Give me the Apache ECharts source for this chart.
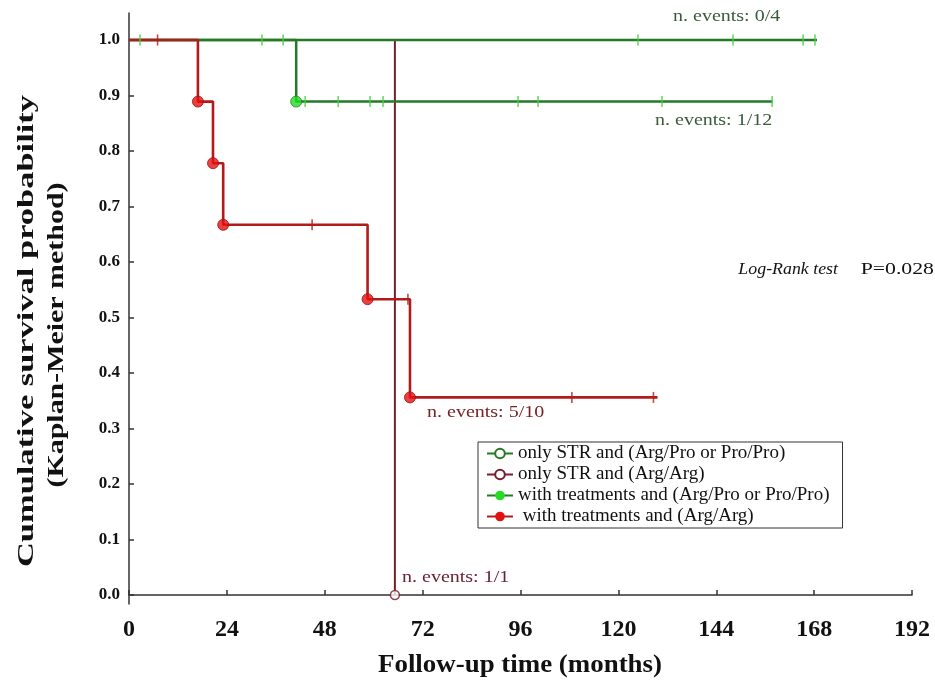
<!DOCTYPE html>
<html><head><meta charset="utf-8">
<script src="https://cdn.jsdelivr.net/npm/echarts@6/dist/echarts.min.js"></script>
<style>html,body{margin:0;padding:0;background:#fff}#c{width:935px;height:684px}</style>
</head><body><div id="c"></div>
<script>
// ---------- data ----------
const xTickValues = [0, 24, 48, 72, 96, 120, 144, 168, 192];
const yTickValues = [0, 0.1, 0.2, 0.3, 0.4, 0.5, 0.6, 0.7, 0.8, 0.9, 1.0];
const groupNames = [
  'only STR and (Arg/Pro or Pro/Pro)',
  'only STR and (Arg/Arg)',
  'with treatments and (Arg/Pro or Pro/Pro)',
  ' with treatments and (Arg/Arg)'
];

// only STR and (Arg/Pro or Pro/Pro)  n. events 0/4
const strProTimes = [0, 168.7];
const strProSurv = [1.0, 1.0];
const strProCensorTimes = [124.8, 148.1, 165.3, 168.2];
const strProCensorSurv = [1.0, 1.0, 1.0, 1.0];

// only STR and (Arg/Arg)  n. events 1/1
const strArgTimes = [0, 65.2];
const strArgSurv = [1.0, 0.0];
const strArgEventTimes = [65.2];
const strArgEventSurv = [0.0];

// with treatments and (Arg/Pro or Pro/Pro)  n. events 1/12
const trtProTimes = [0, 41.0, 157.8];
const trtProSurv = [1.0, 0.889, 0.889];
const trtProEventTimes = [41.0];
const trtProEventSurv = [0.889];
const trtProCensorTimes = [2.7, 32.6, 37.8, 43.2, 51.3, 59.1, 62.3, 95.4, 100.3, 130.7, 157.7];
const trtProCensorSurv = [1.0, 1.0, 1.0, 0.889, 0.889, 0.889, 0.889, 0.889, 0.889, 0.889, 0.889];

// with treatments and (Arg/Arg)  n. events 5/10
const trtArgTimes = [0, 16.9, 20.6, 23.1, 58.5, 68.9, 129.6];
const trtArgSurv = [1.0, 0.889, 0.778, 0.667, 0.533, 0.356, 0.356];
const trtArgEventTimes = [16.9, 20.6, 23.1, 58.5, 68.9];
const trtArgEventSurv = [0.889, 0.778, 0.667, 0.533, 0.356];
const trtArgCensorTimes = [7.0, 44.9, 68.4, 108.6, 128.6];
const trtArgCensorSurv = [1.0, 0.667, 0.533, 0.356, 0.356];

const annotations = [
  {text: 'n. events: 0/4', x: 673, y: 17, color: '#3a5a3a'},
  {text: 'n. events: 1/12', x: 655, y: 121, color: '#3a5a3a'},
  {text: 'n. events: 5/10', x: 427, y: 413, color: '#7a2222'},
  {text: 'n. events: 1/1', x: 402, y: 578, color: '#6a2232'}
];

// ---------- helpers ----------
function pairs(xs, ys) { return xs.map((x, i) => [x, ys[i]]); }
const SERIF = '"Liberation Serif", "Times New Roman", serif';
function measure(txt, font) {
  const c = document.createElement('canvas').getContext('2d');
  c.font = font; return c.measureText(txt).width;
}
function stretchedText(txt, size, x, y, targetW, rot) {
  const font = 'bold ' + size + 'px ' + SERIF;
  const w = measure(txt, font);
  return {
    type: 'text', x: x, y: y, rotation: rot || 0, scaleX: targetW / w, scaleY: 1,
    style: {text: txt, font: font, fill: '#111', align: 'center', verticalAlign: 'middle'}
  };
}

const GREEN_LINE = '#257a25';
const GREEN_TICK = '#44d044';
const BROWN = '#7b1c2c';
const RED_LINE = '#b31b1b';
const RED_DOT = '#e31010';

const chart = echarts.init(document.getElementById('c'), null, {renderer: 'canvas'});
const option = {
  animation: false,
  backgroundColor: '#fff',
  grid: {left: 129, right: 23, top: 13, bottom: 80, containLabel: false, outerBoundsMode: 'none'},
  xAxis: {
    type: 'value', min: 0, max: 192, interval: 24,
    axisLine: {show: true, lineStyle: {color: '#333', width: 1.5}},
    axisTick: {show: true, inside: true, length: 5, lineStyle: {color: '#333', width: 1.5}},
    axisLabel: {margin: 14, fontFamily: SERIF, fontWeight: 'bold', fontSize: 24, color: '#111',
      customValues: xTickValues},
    splitLine: {show: false}
  },
  yAxis: {
    type: 'value', min: -0.0162, max: 1.0486,
    axisLine: {show: true, onZero: false, lineStyle: {color: '#333', width: 1.5}},
    axisTick: {show: true, inside: true, length: 5, lineStyle: {color: '#333', width: 1.5},
      customValues: yTickValues},
    axisLabel: {margin: 9, fontFamily: SERIF, fontWeight: 'bold', fontSize: 17, color: '#111',
      customValues: yTickValues, formatter: v => v.toFixed(1)},
    splitLine: {show: false}
  },
  legend: {
    orient: 'vertical', left: 478, top: 442,
    data: [groupNames[0], groupNames[1], groupNames[2], groupNames[3]],
    itemWidth: 26, itemHeight: 12, itemGap: 2,
    padding: [2, 13, 2, 8],
    borderColor: '#333', borderWidth: 1, backgroundColor: '#fff',
    textStyle: {fontFamily: SERIF, fontSize: 19, color: '#111'},
    selectedMode: false
  },
  series: [
    {name: groupNames[1], type: 'line', step: 'end', data: pairs(strArgTimes, strArgSurv),
      symbol: 'emptyCircle', showSymbol: false, lineStyle: {color: BROWN, width: 2},
      itemStyle: {color: BROWN}, z: 2, silent: true},
    {name: groupNames[0], type: 'line', step: 'end', data: pairs(strProTimes, strProSurv),
      symbol: 'emptyCircle', showSymbol: false, lineStyle: {color: GREEN_LINE, width: 2.5},
      itemStyle: {color: GREEN_LINE}, z: 3, silent: true},
    {name: groupNames[2], type: 'line', step: 'end', data: pairs(trtProTimes, trtProSurv),
      symbol: 'circle', showSymbol: false, lineStyle: {color: GREEN_LINE, width: 2.5},
      itemStyle: {color: '#22dd22'}, z: 4, silent: true},
    {name: groupNames[3], type: 'line', step: 'end', data: pairs(trtArgTimes, trtArgSurv),
      symbol: 'circle', showSymbol: false, lineStyle: {color: RED_LINE, width: 2.6},
      itemStyle: {color: RED_DOT}, z: 5, silent: true},
    // censor marks
    {name: 'censor-strPro', type: 'scatter', data: pairs(strProCensorTimes, strProCensorSurv),
      symbol: 'rect', symbolSize: [1.6, 11], itemStyle: {color: GREEN_TICK}, z: 6, silent: true},
    {name: 'censor-trtPro', type: 'scatter', data: pairs(trtProCensorTimes, trtProCensorSurv),
      symbol: 'rect', symbolSize: [1.6, 11], itemStyle: {color: GREEN_TICK}, z: 6, silent: true},
    {name: 'censor-trtArg', type: 'scatter', data: pairs(trtArgCensorTimes, trtArgCensorSurv),
      symbol: 'rect', symbolSize: [1.6, 11], itemStyle: {color: RED_LINE}, z: 6, silent: true},
    // events
    {name: 'event-strArg', type: 'scatter', data: pairs(strArgEventTimes, strArgEventSurv),
      symbol: 'circle', symbolSize: 9, itemStyle: {color: '#fff', borderColor: BROWN, borderWidth: 1.5}, z: 7, silent: true},
    {name: 'event-trtPro', type: 'scatter', data: pairs(trtProEventTimes, trtProEventSurv),
      symbol: 'circle', symbolSize: 11, itemStyle: {color: '#22dd22', borderColor: '#1a8a1a', borderWidth: 1}, z: 7, silent: true},
    {name: 'event-trtArg', type: 'scatter', data: pairs(trtArgEventTimes, trtArgEventSurv),
      symbol: 'circle', symbolSize: 11, itemStyle: {color: RED_DOT, borderColor: '#a01010', borderWidth: 1}, z: 7, silent: true}
  ],
  graphic: [
    stretchedText('Cumulative survival probability', 24, 27, 331, 472, Math.PI / 2),
    stretchedText('(Kaplan-Meier method)', 24, 57, 335, 305, Math.PI / 2),
    stretchedText('Follow-up time (months)', 26, 520, 665, 284, 0),
    {type: 'text', x: 838, y: 270, scaleX: 1.05, style: {text: 'Log-Rank test', font: 'italic 17px ' + SERIF, fill: '#111', align: 'right', verticalAlign: 'middle'}},
    {type: 'text', x: 934, y: 270, scaleX: 1.28, style: {text: 'P=0.028', font: '17px ' + SERIF, fill: '#111', align: 'right', verticalAlign: 'middle'}}
  ].concat(annotations.map(a => ({
    type: 'text', x: a.x, y: a.y, scaleX: 1.25,
    style: {text: a.text, font: '16px ' + SERIF, fill: a.color, align: 'left', verticalAlign: 'middle'}
  })))
};
chart.setOption(option);
</script>
</body></html>
